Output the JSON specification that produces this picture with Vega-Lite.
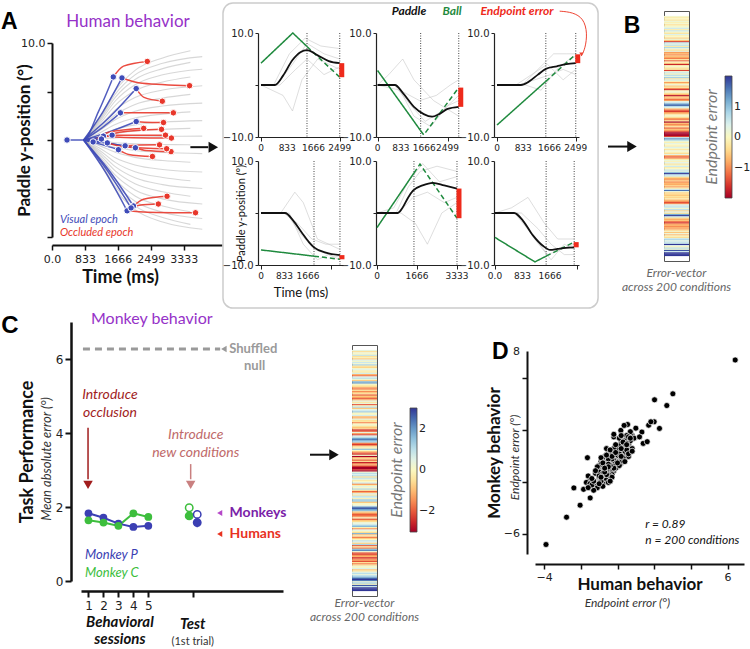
{
"$schema": "https://vega.github.io/schema/vega-lite/v6.json",
"padding": 0,
"background": "white",
"data": {"values": [{}]},
"config": {
  "view": {"stroke": null},
  "axis": {"grid": false, "labelFont": "DejaVu Sans", "labelFontSize": 11, "labelColor": "#222", "domainColor": "#222", "tickColor": "#222", "titleColor": "#111", "titleFont": "Lato", "labelFlush": false, "labelBound": false},
  "legend": {"labelFont": "DejaVu Sans", "labelFontSize": 11, "labelColor": "#222", "titleFont": "Lato", "gradientStrokeColor": "#444", "gradientStrokeWidth": 0.8},
  "title": {"font": "Lato"},
  "text": {"font": "Lato"}
},
"datasets": {
  "cond": [
    {"i":0,"h":0.1,"m":0.4},{"i":1,"h":-0.2,"m":-0.6},{"i":2,"h":0.0,"m":0.3},{"i":3,"h":-0.3,"m":-0.1},{"i":4,"h":0.2,"m":0.9},
    {"i":5,"h":-0.1,"m":-0.5},{"i":6,"h":0.1,"m":-0.2},{"i":7,"h":-0.4,"m":-0.9},{"i":8,"h":0.0,"m":0.6},{"i":9,"h":0.2,"m":0.1},
    {"i":10,"h":0.5,"m":0.8},{"i":11,"h":-0.2,"m":0.2},{"i":12,"h":0.6,"m":1.3},{"i":13,"h":0.1,"m":-0.4},{"i":14,"h":-0.3,"m":-0.7},
    {"i":15,"h":0.4,"m":0.2},{"i":16,"h":-0.1,"m":0.5},{"i":17,"h":0.0,"m":-0.3},{"i":18,"h":-0.5,"m":-0.2},{"i":19,"h":0.2,"m":0.7},
    {"i":20,"h":-0.6,"m":-1.1},{"i":21,"h":-1.5,"m":-1.8},{"i":22,"h":0.7,"m":0.5},{"i":23,"h":0.3,"m":1.0},{"i":24,"h":0.6,"m":0.2},
    {"i":25,"h":-0.2,"m":-0.8},{"i":26,"h":0.8,"m":1.6},{"i":27,"h":0.18,"m":2.0},{"i":28,"h":-0.4,"m":0.1},{"i":29,"h":0.3,"m":-0.3},
    {"i":30,"h":-0.9,"m":-0.6},{"i":31,"h":-0.7,"m":-1.4},{"i":32,"h":-1.0,"m":-1.7},{"i":33,"h":-0.6,"m":-0.3},{"i":34,"h":-0.8,"m":-1.5},
    {"i":35,"h":-1.1,"m":-0.9},{"i":36,"h":-0.3,"m":-0.6},{"i":37,"h":-1.3,"m":-2.0},{"i":38,"h":0.0,"m":-0.8},{"i":39,"h":-0.5,"m":-1.3},
    {"i":40,"h":-1.7,"m":-2.0},{"i":41,"h":-0.2,"m":-1.1},{"i":42,"h":0.1,"m":0.5},{"i":43,"h":-0.4,"m":-0.4},{"i":44,"h":-0.2,"m":0.3},
    {"i":45,"h":-1.5,"m":-2.1},{"i":46,"h":0.2,"m":-0.1},{"i":47,"h":0.6,"m":1.1},{"i":48,"h":-0.1,"m":-0.9},{"i":49,"h":0.7,"m":0.4},
    {"i":50,"h":0.3,"m":0.8},{"i":51,"h":0.9,"m":1.4},{"i":52,"h":-0.3,"m":0.0},{"i":53,"h":0.5,"m":0.1},{"i":54,"h":0.0,"m":0.7},
    {"i":55,"h":-0.9,"m":-1.0},{"i":56,"h":-0.4,"m":-1.2},{"i":57,"h":0.2,"m":0.4},{"i":58,"h":-0.6,"m":-0.5},{"i":59,"h":-0.2,"m":-0.4},
    {"i":60,"h":-1.0,"m":-1.6},{"i":61,"h":-1.64,"m":-0.1},{"i":62,"h":-0.1,"m":0.2},{"i":63,"h":0.2,"m":-0.5},{"i":64,"h":-0.3,"m":-0.9},
    {"i":65,"h":-0.7,"m":-0.8},{"i":66,"h":-1.85,"m":-2.53},{"i":67,"h":-0.8,"m":-1.9},{"i":68,"h":-0.5,"m":0.4},{"i":69,"h":-1.2,"m":-1.3},
    {"i":70,"h":-0.9,"m":-2.2},{"i":71,"h":0.3,"m":0.6},{"i":72,"h":0.6,"m":0.9},{"i":73,"h":1.33,"m":1.87},{"i":74,"h":1.7,"m":2.4},
    {"i":75,"h":0.7,"m":1.7},{"i":76,"h":0.4,"m":1.2},{"i":77,"h":-0.6,"m":-1.6},{"i":78,"h":-1.2,"m":-2.3},{"i":79,"h":-1.6,"m":-1.5},
    {"i":80,"h":-0.9,"m":-0.4},{"i":81,"h":-0.7,"m":-0.2},{"i":82,"h":-0.2,"m":1.5},{"i":83,"h":0.1,"m":0.0},{"i":84,"h":-0.3,"m":-1.0},
    {"i":85,"h":-0.9,"m":-1.8},{"i":86,"h":-1.1,"m":-2.4},{"i":87,"h":-0.4,"m":0.2},{"i":88,"h":-2.04,"m":-3.75},{"i":89,"h":-0.6,"m":-1.1},
    {"i":90,"h":-1.0,"m":-0.7},{"i":91,"h":-0.8,"m":-2.0},{"i":92,"h":-0.3,"m":-0.5},{"i":93,"h":-1.3,"m":-2.6},{"i":94,"h":-0.6,"m":-1.7},
    {"i":95,"h":-0.9,"m":-1.2},{"i":96,"h":-1.4,"m":-2.2},{"i":97,"h":-2.78,"m":-4.67},{"i":98,"h":-3.9,"m":-6.77},{"i":99,"h":-2.38,"m":-2.42},
    {"i":100,"h":-1.49,"m":-3.19},{"i":101,"h":0.6,"m":0.3},{"i":102,"h":1.4,"m":1.0},{"i":103,"h":0.8,"m":0.6},{"i":104,"h":0.2,"m":1.1},
    {"i":105,"h":-0.1,"m":-0.6},{"i":106,"h":0.3,"m":0.9},{"i":107,"h":0.0,"m":0.4},{"i":108,"h":-0.2,"m":-0.3},{"i":109,"h":0.4,"m":0.0},
    {"i":110,"h":0.1,"m":0.8},{"i":111,"h":-0.3,"m":-1.4},{"i":112,"h":0.2,"m":-0.2},{"i":113,"h":0.0,"m":0.5},{"i":114,"h":-0.4,"m":-0.1},
    {"i":115,"h":0.3,"m":1.2},{"i":116,"h":-0.8,"m":-0.3},{"i":117,"h":-1.3,"m":-1.9},{"i":118,"h":-1.0,"m":-1.2},{"i":119,"h":-0.2,"m":0.6},
    {"i":120,"h":0.2,"m":-0.4},{"i":121,"h":-0.1,"m":0.9},{"i":122,"h":0.4,"m":0.7},{"i":123,"h":-0.3,"m":-0.2},{"i":124,"h":0.1,"m":1.4},
    {"i":125,"h":0.5,"m":1.3},{"i":126,"h":-0.2,"m":-0.9},{"i":127,"h":0.0,"m":0.1},{"i":128,"h":0.6,"m":0.0},{"i":129,"h":0.3,"m":0.5},
    {"i":130,"h":1.0,"m":2.17},{"i":131,"h":2.0,"m":2.66},{"i":132,"h":0.7,"m":1.9},{"i":133,"h":0.5,"m":1.6},{"i":134,"h":-0.4,"m":-0.7},
    {"i":135,"h":-0.8,"m":-1.3},{"i":136,"h":-0.9,"m":-2.0},{"i":137,"h":-0.6,"m":-1.8},{"i":138,"h":-1.0,"m":-1.5},{"i":139,"h":-0.7,"m":0.0},
    {"i":140,"h":-0.8,"m":-2.1},{"i":141,"h":-0.5,"m":-0.9},{"i":142,"h":-0.9,"m":-0.6},{"i":143,"h":-0.3,"m":0.3},{"i":144,"h":0.4,"m":0.4},
    {"i":145,"h":1.62,"m":1.13},{"i":146,"h":0.2,"m":1.6},{"i":147,"h":-0.5,"m":-0.2},{"i":148,"h":-0.4,"m":-1.5},{"i":149,"h":-0.6,"m":0.6},
    {"i":150,"h":-0.3,"m":0.0},{"i":151,"h":-0.5,"m":-0.6},{"i":152,"h":-0.2,"m":1.7},{"i":153,"h":-0.7,"m":-1.0},{"i":154,"h":-0.9,"m":-0.1},
    {"i":155,"h":-1.4,"m":-1.7},{"i":156,"h":-1.1,"m":-0.8},{"i":157,"h":0.3,"m":-0.1},{"i":158,"h":0.6,"m":1.0},{"i":159,"h":0.5,"m":0.5},
    {"i":160,"h":0.1,"m":-0.7},{"i":161,"h":0.7,"m":1.2},{"i":162,"h":-0.5,"m":-2.0},{"i":163,"h":0.4,"m":-0.4},{"i":164,"h":-0.3,"m":-1.6},
    {"i":165,"h":1.2,"m":1.5},{"i":166,"h":2.29,"m":2.15},{"i":167,"h":0.6,"m":0.2},{"i":168,"h":-0.4,"m":-1.9},{"i":169,"h":-0.8,"m":-2.3},
    {"i":170,"h":-0.6,"m":-1.4},{"i":171,"h":-1.2,"m":-1.1},{"i":172,"h":-1.6,"m":-2.4},{"i":173,"h":-0.9,"m":-1.9},{"i":174,"h":-0.7,"m":-1.2},
    {"i":175,"h":-1.0,"m":-2.1},{"i":176,"h":-0.8,"m":-0.5},{"i":177,"h":-0.9,"m":-1.6},{"i":178,"h":-0.5,"m":-0.8},{"i":179,"h":0.1,"m":0.2},
    {"i":180,"h":-0.6,"m":0.1},{"i":181,"h":0.2,"m":0.6},{"i":182,"h":-0.7,"m":-0.9},{"i":183,"h":0.0,"m":-0.5},{"i":184,"h":-0.4,"m":0.5},
    {"i":185,"h":0.5,"m":1.0},{"i":186,"h":0.8,"m":0.4},{"i":187,"h":0.3,"m":1.1},{"i":188,"h":0.6,"m":1.5},{"i":189,"h":0.55,"m":2.45},
    {"i":190,"h":2.02,"m":4.35},{"i":191,"h":0.36,"m":2.38},{"i":192,"h":-0.1,"m":0.3},{"i":193,"h":0.7,"m":1.4},{"i":194,"h":0.2,"m":0.0},
    {"i":195,"h":1.82,"m":2.66},{"i":196,"h":0.5,"m":0.9},{"i":197,"h":2.69,"m":3.91},{"i":198,"h":6.42,"m":7.41},{"i":199,"h":3.02,"m":4.81}
  ],
  "agray": [
    {"k":1,"t":800,"y":0},{"k":1,"t":1200,"y":2.3},{"k":1,"t":1600,"y":5.06},{"k":1,"t":2100,"y":7.18},{"k":1,"t":2800,"y":8.46},{"k":1,"t":3500,"y":9.2},
    {"k":2,"t":800,"y":0},{"k":2,"t":1200,"y":2.15},{"k":2,"t":1600,"y":4.73},{"k":2,"t":2100,"y":6.71},{"k":2,"t":2800,"y":7.91},{"k":2,"t":3800,"y":8.6},
    {"k":3,"t":800,"y":0},{"k":3,"t":1200,"y":2.0},{"k":3,"t":1600,"y":4.4},{"k":3,"t":2100,"y":6.24},{"k":3,"t":2800,"y":7.36},{"k":3,"t":3500,"y":8.0},
    {"k":4,"t":800,"y":0},{"k":4,"t":1200,"y":1.83},{"k":4,"t":1600,"y":4.02},{"k":4,"t":2100,"y":5.69},{"k":4,"t":2800,"y":6.72},{"k":4,"t":3800,"y":7.3},
    {"k":5,"t":800,"y":0},{"k":5,"t":1200,"y":1.63},{"k":5,"t":1600,"y":3.58},{"k":5,"t":2100,"y":5.07},{"k":5,"t":2800,"y":5.98},{"k":5,"t":3500,"y":6.5},
    {"k":6,"t":800,"y":0},{"k":6,"t":1200,"y":1.4},{"k":6,"t":1600,"y":3.08},{"k":6,"t":2100,"y":4.37},{"k":6,"t":2800,"y":5.15},{"k":6,"t":3800,"y":5.6},
    {"k":7,"t":800,"y":0},{"k":7,"t":1200,"y":1.18},{"k":7,"t":1600,"y":2.59},{"k":7,"t":2100,"y":3.67},{"k":7,"t":2800,"y":4.32},{"k":7,"t":3500,"y":4.7},
    {"k":8,"t":800,"y":0},{"k":8,"t":1200,"y":0.95},{"k":8,"t":1600,"y":2.09},{"k":8,"t":2100,"y":2.96},{"k":8,"t":2800,"y":3.5},{"k":8,"t":3800,"y":3.8},
    {"k":9,"t":800,"y":0},{"k":9,"t":1200,"y":0.73},{"k":9,"t":1600,"y":1.6},{"k":9,"t":2100,"y":2.26},{"k":9,"t":2800,"y":2.67},{"k":9,"t":3500,"y":2.9},
    {"k":10,"t":800,"y":0},{"k":10,"t":1200,"y":0.5},{"k":10,"t":1600,"y":1.1},{"k":10,"t":2100,"y":1.56},{"k":10,"t":2800,"y":1.84},{"k":10,"t":3800,"y":2.0},
    {"k":11,"t":800,"y":0},{"k":11,"t":1200,"y":0.3},{"k":11,"t":1600,"y":0.66},{"k":11,"t":2100,"y":0.94},{"k":11,"t":2800,"y":1.1},{"k":11,"t":3500,"y":1.2},
    {"k":12,"t":800,"y":0},{"k":12,"t":1200,"y":0.1},{"k":12,"t":1600,"y":0.22},{"k":12,"t":2100,"y":0.31},{"k":12,"t":2800,"y":0.37},{"k":12,"t":3800,"y":0.4},
    {"k":13,"t":800,"y":0},{"k":13,"t":1200,"y":-0.13},{"k":13,"t":1600,"y":-0.28},{"k":13,"t":2100,"y":-0.39},{"k":13,"t":2800,"y":-0.46},{"k":13,"t":3500,"y":-0.5},
    {"k":14,"t":800,"y":0},{"k":14,"t":1200,"y":-0.35},{"k":14,"t":1600,"y":-0.77},{"k":14,"t":2100,"y":-1.09},{"k":14,"t":2800,"y":-1.29},{"k":14,"t":3800,"y":-1.4},
    {"k":15,"t":800,"y":0},{"k":15,"t":1200,"y":-0.58},{"k":15,"t":1600,"y":-1.27},{"k":15,"t":2100,"y":-1.79},{"k":15,"t":2800,"y":-2.12},{"k":15,"t":3500,"y":-2.3},
    {"k":16,"t":800,"y":0},{"k":16,"t":1200,"y":-0.83},{"k":16,"t":1600,"y":-1.82},{"k":16,"t":2100,"y":-2.57},{"k":16,"t":2800,"y":-3.04},{"k":16,"t":3800,"y":-3.3},
    {"k":17,"t":800,"y":0},{"k":17,"t":1200,"y":-1.05},{"k":17,"t":1600,"y":-2.31},{"k":17,"t":2100,"y":-3.28},{"k":17,"t":2800,"y":-3.86},{"k":17,"t":3500,"y":-4.2},
    {"k":18,"t":800,"y":0},{"k":18,"t":1200,"y":-1.25},{"k":18,"t":1600,"y":-2.75},{"k":18,"t":2100,"y":-3.9},{"k":18,"t":2800,"y":-4.6},{"k":18,"t":3800,"y":-5.0},
    {"k":19,"t":800,"y":0},{"k":19,"t":1200,"y":-1.45},{"k":19,"t":1600,"y":-3.19},{"k":19,"t":2100,"y":-4.52},{"k":19,"t":2800,"y":-5.34},{"k":19,"t":3500,"y":-5.8},
    {"k":20,"t":800,"y":0},{"k":20,"t":1200,"y":-1.65},{"k":20,"t":1600,"y":-3.63},{"k":20,"t":2100,"y":-5.15},{"k":20,"t":2800,"y":-6.07},{"k":20,"t":3800,"y":-6.6},
    {"k":21,"t":800,"y":0},{"k":21,"t":1200,"y":-1.85},{"k":21,"t":1600,"y":-4.07},{"k":21,"t":2100,"y":-5.77},{"k":21,"t":2800,"y":-6.81},{"k":21,"t":3500,"y":-7.4},
    {"k":22,"t":800,"y":0},{"k":22,"t":1200,"y":-2.03},{"k":22,"t":1600,"y":-4.46},{"k":22,"t":2100,"y":-6.32},{"k":22,"t":2800,"y":-7.45},{"k":22,"t":3800,"y":-8.1},
    {"k":23,"t":800,"y":0},{"k":23,"t":1200,"y":-2.18},{"k":23,"t":1600,"y":-4.79},{"k":23,"t":2100,"y":-6.79},{"k":23,"t":2800,"y":-8.0},{"k":23,"t":3500,"y":-8.7},
    {"k":24,"t":800,"y":0},{"k":24,"t":1200,"y":-2.3},{"k":24,"t":1600,"y":-5.06},{"k":24,"t":2100,"y":-7.18},{"k":24,"t":2800,"y":-8.46},{"k":24,"t":3800,"y":-9.2}
  ],
  "acol": [
    {"k":"c1","s":"v","t":380,"y":0},{"k":"c1","s":"v","t":800,"y":0},{"k":"c1","s":"v","t":1175,"y":2.93},{"k":"c1","s":"v","t":1550,"y":6.5},
    {"k":"c1","s":"o","t":1550,"y":6.5},{"k":"c1","s":"o","t":1808,"y":7.62},{"k":"c1","s":"o","t":2410,"y":8.1},
    {"k":"c2","s":"v","t":800,"y":0},{"k":"c2","s":"v","t":1285,"y":2.88},{"k":"c2","s":"v","t":1770,"y":6.4},
    {"k":"c2","s":"o","t":1770,"y":6.4},{"k":"c2","s":"o","t":2283,"y":5.84},{"k":"c2","s":"o","t":3480,"y":5.6},
    {"k":"c3","s":"v","t":800,"y":0},{"k":"c3","s":"v","t":1465,"y":2.39},{"k":"c3","s":"v","t":2130,"y":5.3},
    {"k":"c3","s":"o","t":2130,"y":5.3},{"k":"c3","s":"o","t":2328,"y":4.39},{"k":"c3","s":"o","t":2790,"y":4.0},
    {"k":"c4","s":"v","t":800,"y":0},{"k":"c4","s":"v","t":1265,"y":1.26},{"k":"c4","s":"v","t":1730,"y":2.8},
    {"k":"c4","s":"o","t":1730,"y":2.8},{"k":"c4","s":"o","t":2132,"y":2.8},{"k":"c4","s":"o","t":3070,"y":2.8},
    {"k":"c5","s":"v","t":800,"y":0},{"k":"c5","s":"v","t":1465,"y":0.86},{"k":"c5","s":"v","t":2130,"y":1.9},
    {"k":"c5","s":"o","t":2130,"y":1.9},{"k":"c5","s":"o","t":2337,"y":1.83},{"k":"c5","s":"o","t":2820,"y":1.8},
    {"k":"c6","s":"v","t":800,"y":0},{"k":"c6","s":"v","t":1160,"y":0.23},{"k":"c6","s":"v","t":1520,"y":0.5},
    {"k":"c6","s":"o","t":1520,"y":0.5},{"k":"c6","s":"o","t":1925,"y":0.5},{"k":"c6","s":"o","t":2870,"y":0.5},
    {"k":"c7","s":"v","t":800,"y":0},{"k":"c7","s":"v","t":1050,"y":0.18},{"k":"c7","s":"v","t":1300,"y":0.4},
    {"k":"c7","s":"o","t":1300,"y":0.4},{"k":"c7","s":"o","t":1816,"y":0.26},{"k":"c7","s":"o","t":3020,"y":0.2},
    {"k":"c8","s":"v","t":800,"y":0},{"k":"c8","s":"v","t":920,"y":-0.09},{"k":"c8","s":"v","t":1040,"y":-0.2},
    {"k":"c8","s":"o","t":1040,"y":-0.2},{"k":"c8","s":"o","t":1424,"y":0.78},{"k":"c8","s":"o","t":2320,"y":1.2},
    {"k":"c9","s":"v","t":800,"y":0},{"k":"c9","s":"v","t":1025,"y":0.05},{"k":"c9","s":"v","t":1250,"y":0.1},
    {"k":"c9","s":"o","t":1250,"y":0.1},{"k":"c9","s":"o","t":1706,"y":0.8},{"k":"c9","s":"o","t":2770,"y":1.1},
    {"k":"c10","s":"v","t":800,"y":0},{"k":"c10","s":"v","t":1240,"y":-0.45},{"k":"c10","s":"v","t":1680,"y":-1.0},
    {"k":"c10","s":"o","t":1680,"y":-1.0},{"k":"c10","s":"o","t":1938,"y":-1.49},{"k":"c10","s":"o","t":2540,"y":-1.7},
    {"k":"c11","s":"v","t":800,"y":0},{"k":"c11","s":"v","t":1455,"y":-0.36},{"k":"c11","s":"v","t":2110,"y":-0.8},
    {"k":"c11","s":"o","t":2110,"y":-0.8},{"k":"c11","s":"o","t":2380,"y":-1.08},{"k":"c11","s":"o","t":3010,"y":-1.2},
    {"k":"c12","s":"v","t":800,"y":0},{"k":"c12","s":"v","t":1325,"y":-0.27},{"k":"c12","s":"v","t":1850,"y":-0.6},
    {"k":"c12","s":"o","t":1850,"y":-0.6},{"k":"c12","s":"o","t":2111,"y":-0.53},{"k":"c12","s":"o","t":2720,"y":-0.5},
    {"k":"c13","s":"v","t":800,"y":0},{"k":"c13","s":"v","t":1100,"y":-0.14},{"k":"c13","s":"v","t":1400,"y":-0.3},
    {"k":"c13","s":"o","t":1400,"y":-0.3},{"k":"c13","s":"o","t":1850,"y":-0.72},{"k":"c13","s":"o","t":2900,"y":-0.9},
    {"k":"c14","s":"v","t":800,"y":0},{"k":"c14","s":"v","t":1350,"y":-3.29},{"k":"c14","s":"v","t":1900,"y":-7.3},
    {"k":"c14","s":"o","t":1900,"y":-7.3},{"k":"c14","s":"o","t":2419,"y":-7.44},{"k":"c14","s":"o","t":3630,"y":-7.5},
    {"k":"c15","s":"v","t":800,"y":0},{"k":"c15","s":"v","t":1430,"y":-3.06},{"k":"c15","s":"v","t":2060,"y":-6.8},
    {"k":"c15","s":"o","t":2060,"y":-6.8},{"k":"c15","s":"o","t":2315,"y":-6.1},{"k":"c15","s":"o","t":2910,"y":-5.8},
    {"k":"c16","s":"v","t":800,"y":0},{"k":"c16","s":"v","t":1400,"y":-3.15},{"k":"c16","s":"v","t":2000,"y":-7.0},
    {"k":"c16","s":"o","t":2000,"y":-7.0},{"k":"c16","s":"o","t":2207,"y":-6.72},{"k":"c16","s":"o","t":2690,"y":-6.6}
  ],
  "adot": [
    {"s":"v","t":380,"y":0},
    {"s":"v","t":1550,"y":6.5},{"s":"o","t":2410,"y":8.1},
    {"s":"v","t":1770,"y":6.4},{"s":"o","t":3480,"y":5.6},
    {"s":"v","t":2130,"y":5.3},{"s":"o","t":2790,"y":4.0},
    {"s":"v","t":1730,"y":2.8},{"s":"o","t":3070,"y":2.8},
    {"s":"v","t":2130,"y":1.9},{"s":"o","t":2820,"y":1.8},
    {"s":"v","t":1520,"y":0.5},{"s":"o","t":2870,"y":0.5},
    {"s":"v","t":1300,"y":0.4},{"s":"o","t":3020,"y":0.2},
    {"s":"v","t":1040,"y":-0.2},{"s":"o","t":2320,"y":1.2},
    {"s":"v","t":1250,"y":0.1},{"s":"o","t":2770,"y":1.1},
    {"s":"v","t":1680,"y":-1.0},{"s":"o","t":2540,"y":-1.7},
    {"s":"v","t":2110,"y":-0.8},{"s":"o","t":3010,"y":-1.2},
    {"s":"v","t":1850,"y":-0.6},{"s":"o","t":2720,"y":-0.5},
    {"s":"v","t":1400,"y":-0.3},{"s":"o","t":2900,"y":-0.9},
    {"s":"v","t":1900,"y":-7.3},{"s":"o","t":3630,"y":-7.5},
    {"s":"v","t":2060,"y":-6.8},{"s":"o","t":2910,"y":-5.8},
    {"s":"v","t":2000,"y":-7.0},{"s":"o","t":2690,"y":-6.6}
  ],
  "trials": [
    {"p":1,"k":1,"t":0,"y":0},{"p":1,"k":1,"t":500,"y":0},{"p":1,"k":1,"t":1000,"y":4},{"p":1,"k":1,"t":1460,"y":8},{"p":1,"k":1,"t":2000,"y":6},{"p":1,"k":1,"t":2500,"y":5},
    {"p":1,"k":2,"t":0,"y":0},{"p":1,"k":2,"t":600,"y":0},{"p":1,"k":2,"t":1100,"y":3},{"p":1,"k":2,"t":1460,"y":5},{"p":1,"k":2,"t":2000,"y":2},{"p":1,"k":2,"t":2500,"y":3.5},
    {"p":1,"k":3,"t":0,"y":0},{"p":1,"k":3,"t":400,"y":0},{"p":1,"k":3,"t":900,"y":6},{"p":1,"k":3,"t":1400,"y":9},{"p":1,"k":3,"t":1900,"y":7.5},{"p":1,"k":3,"t":2500,"y":7},
    {"p":1,"k":4,"t":0,"y":0},{"p":1,"k":4,"t":700,"y":-2},{"p":1,"k":4,"t":1000,"y":-5},{"p":1,"k":4,"t":1300,"y":1},{"p":1,"k":4,"t":1800,"y":5},{"p":1,"k":4,"t":2500,"y":3},
    {"p":2,"k":1,"t":0,"y":0},{"p":2,"k":1,"t":600,"y":0},{"p":2,"k":1,"t":1200,"y":-4},{"p":2,"k":1,"t":1700,"y":-7},{"p":2,"k":1,"t":2300,"y":-5},{"p":2,"k":1,"t":2900,"y":-2},
    {"p":2,"k":2,"t":0,"y":0},{"p":2,"k":2,"t":400,"y":2},{"p":2,"k":2,"t":900,"y":5},{"p":2,"k":2,"t":1300,"y":1},{"p":2,"k":2,"t":2000,"y":-3},{"p":2,"k":2,"t":2900,"y":-6},
    {"p":2,"k":3,"t":0,"y":0},{"p":2,"k":3,"t":700,"y":0},{"p":2,"k":3,"t":1300,"y":-6},{"p":2,"k":3,"t":1900,"y":-8},{"p":2,"k":3,"t":2500,"y":-4},{"p":2,"k":3,"t":2900,"y":-3},
    {"p":2,"k":4,"t":0,"y":0},{"p":2,"k":4,"t":800,"y":-1},{"p":2,"k":4,"t":1500,"y":-3},{"p":2,"k":4,"t":2100,"y":-2},{"p":2,"k":4,"t":2600,"y":0},{"p":2,"k":4,"t":2900,"y":1},
    {"p":3,"k":1,"t":0,"y":0},{"p":3,"k":1,"t":800,"y":0},{"p":3,"k":1,"t":1300,"y":3},{"p":3,"k":1,"t":1800,"y":6},{"p":3,"k":1,"t":2200,"y":6},{"p":3,"k":1,"t":2500,"y":6},
    {"p":3,"k":2,"t":0,"y":0},{"p":3,"k":2,"t":700,"y":0},{"p":3,"k":2,"t":1200,"y":1},{"p":3,"k":2,"t":1700,"y":2},{"p":3,"k":2,"t":2100,"y":3},{"p":3,"k":2,"t":2500,"y":2},
    {"p":3,"k":3,"t":0,"y":0},{"p":3,"k":3,"t":900,"y":0},{"p":3,"k":3,"t":1400,"y":-1},{"p":3,"k":3,"t":1900,"y":3},{"p":3,"k":3,"t":2300,"y":5},{"p":3,"k":3,"t":2500,"y":5.5},
    {"p":3,"k":4,"t":0,"y":0},{"p":3,"k":4,"t":600,"y":0},{"p":3,"k":4,"t":1100,"y":2},{"p":3,"k":4,"t":1600,"y":4},{"p":3,"k":4,"t":2100,"y":1},{"p":3,"k":4,"t":2500,"y":3},
    {"p":4,"k":1,"t":0,"y":0},{"p":4,"k":1,"t":900,"y":0},{"p":4,"k":1,"t":1400,"y":-4},{"p":4,"k":1,"t":1900,"y":-7},{"p":4,"k":1,"t":2400,"y":-8},{"p":4,"k":1,"t":2800,"y":-9},
    {"p":4,"k":2,"t":0,"y":0},{"p":4,"k":2,"t":700,"y":0},{"p":4,"k":2,"t":1200,"y":4},{"p":4,"k":2,"t":1500,"y":2},{"p":4,"k":2,"t":2000,"y":-5},{"p":4,"k":2,"t":2800,"y":-7},
    {"p":4,"k":3,"t":0,"y":0},{"p":4,"k":3,"t":1000,"y":0},{"p":4,"k":3,"t":1500,"y":-6},{"p":4,"k":3,"t":2000,"y":-9},{"p":4,"k":3,"t":2400,"y":-8},{"p":4,"k":3,"t":2800,"y":-8.5},
    {"p":4,"k":4,"t":0,"y":0},{"p":4,"k":4,"t":800,"y":0},{"p":4,"k":4,"t":1300,"y":-2},{"p":4,"k":4,"t":1800,"y":-5},{"p":4,"k":4,"t":2300,"y":-6},{"p":4,"k":4,"t":2800,"y":-6},
    {"p":5,"k":1,"t":0,"y":0},{"p":5,"k":1,"t":800,"y":0},{"p":5,"k":1,"t":1300,"y":5},{"p":5,"k":1,"t":1800,"y":8},{"p":5,"k":1,"t":2500,"y":9},{"p":5,"k":1,"t":3333,"y":8},
    {"p":5,"k":2,"t":0,"y":0},{"p":5,"k":2,"t":900,"y":0},{"p":5,"k":2,"t":1500,"y":3},{"p":5,"k":2,"t":2100,"y":4},{"p":5,"k":2,"t":2800,"y":2},{"p":5,"k":2,"t":3333,"y":3},
    {"p":5,"k":3,"t":0,"y":0},{"p":5,"k":3,"t":700,"y":1},{"p":5,"k":3,"t":1300,"y":6},{"p":5,"k":3,"t":1900,"y":9.5},{"p":5,"k":3,"t":2600,"y":6},{"p":5,"k":3,"t":3333,"y":7},
    {"p":5,"k":4,"t":0,"y":0},{"p":5,"k":4,"t":1000,"y":0},{"p":5,"k":4,"t":1600,"y":-2},{"p":5,"k":4,"t":2100,"y":-6},{"p":5,"k":4,"t":2700,"y":0},{"p":5,"k":4,"t":3333,"y":2},
    {"p":6,"k":1,"t":0,"y":0},{"p":6,"k":1,"t":600,"y":0},{"p":6,"k":1,"t":1100,"y":-4},{"p":6,"k":1,"t":1600,"y":-8},{"p":6,"k":1,"t":2000,"y":-7},{"p":6,"k":1,"t":2400,"y":-6},
    {"p":6,"k":2,"t":0,"y":0},{"p":6,"k":2,"t":800,"y":0},{"p":6,"k":2,"t":1300,"y":-3},{"p":6,"k":2,"t":1700,"y":-6},{"p":6,"k":2,"t":2100,"y":-8},{"p":6,"k":2,"t":2400,"y":-8},
    {"p":6,"k":3,"t":0,"y":0},{"p":6,"k":3,"t":500,"y":1},{"p":6,"k":3,"t":1000,"y":3},{"p":6,"k":3,"t":1500,"y":-2},{"p":6,"k":3,"t":1900,"y":-5},{"p":6,"k":3,"t":2400,"y":-5},
    {"p":6,"k":4,"t":0,"y":0},{"p":6,"k":4,"t":700,"y":0},{"p":6,"k":4,"t":1200,"y":-5},{"p":6,"k":4,"t":1700,"y":-9},{"p":6,"k":4,"t":2100,"y":-6},{"p":6,"k":4,"t":2400,"y":-7}
  ],
  "mean": [
    {"p":1,"t":0,"y":0},{"p":1,"t":440,"y":0},{"p":1,"t":700,"y":1.8},{"p":1,"t":1000,"y":4.8},{"p":1,"t":1250,"y":6.3},{"p":1,"t":1460,"y":6.7},{"p":1,"t":1800,"y":5.7},{"p":1,"t":2150,"y":4.6},{"p":1,"t":2500,"y":4.2},
    {"p":2,"t":0,"y":0},{"p":2,"t":620,"y":0},{"p":2,"t":900,"y":-1.5},{"p":2,"t":1300,"y":-4.2},{"p":2,"t":1650,"y":-5.6},{"p":2,"t":1950,"y":-6.1},{"p":2,"t":2200,"y":-5.6},{"p":2,"t":2500,"y":-4.6},{"p":2,"t":2900,"y":-4.2},
    {"p":3,"t":0,"y":0},{"p":3,"t":760,"y":0},{"p":3,"t":1000,"y":0.6},{"p":3,"t":1300,"y":2.0},{"p":3,"t":1550,"y":3.1},{"p":3,"t":1900,"y":3.6},{"p":3,"t":2200,"y":4.0},{"p":3,"t":2500,"y":4.2},
    {"p":4,"t":0,"y":0},{"p":4,"t":850,"y":0},{"p":4,"t":1150,"y":-1.5},{"p":4,"t":1450,"y":-3.8},{"p":4,"t":1700,"y":-5.6},{"p":4,"t":1880,"y":-6.6},{"p":4,"t":2300,"y":-7.6},{"p":4,"t":2800,"y":-8.1},
    {"p":5,"t":0,"y":0},{"p":5,"t":870,"y":0},{"p":5,"t":1050,"y":0.9},{"p":5,"t":1300,"y":3.0},{"p":5,"t":1500,"y":4.3},{"p":5,"t":1900,"y":5.3},{"p":5,"t":2330,"y":5.8},{"p":5,"t":2800,"y":5.3},{"p":5,"t":3333,"y":4.7},
    {"p":6,"t":0,"y":0},{"p":6,"t":580,"y":0},{"p":6,"t":850,"y":-1.5},{"p":6,"t":1150,"y":-4.3},{"p":6,"t":1450,"y":-6.3},{"p":6,"t":1670,"y":-7.1},{"p":6,"t":1900,"y":-6.9},{"p":6,"t":2150,"y":-6.7},{"p":6,"t":2400,"y":-6.6}
  ],
  "ball": [
    {"p":1,"s":"v","t":0,"y":4.2},{"p":1,"s":"v","t":1010,"y":10},{"p":1,"s":"v","t":1460,"y":7.4},{"p":1,"s":"o","t":1460,"y":7.4},{"p":1,"s":"o","t":2500,"y":1.5},
    {"p":2,"s":"v","t":0,"y":2.8},{"p":2,"s":"v","t":1540,"y":-8.8},{"p":2,"s":"o","t":1540,"y":-8.8},{"p":2,"s":"o","t":1650,"y":-9.6},{"p":2,"s":"o","t":2900,"y":-0.5},
    {"p":3,"s":"v","t":0,"y":-7.7},{"p":3,"s":"v","t":1550,"y":0.7},{"p":3,"s":"o","t":1550,"y":0.7},{"p":3,"s":"o","t":2500,"y":5.9},
    {"p":4,"s":"v","t":0,"y":-7.1},{"p":4,"s":"v","t":1880,"y":-8.3},{"p":4,"s":"o","t":1880,"y":-8.3},{"p":4,"s":"o","t":2800,"y":-8.9},
    {"p":5,"s":"v","t":0,"y":-2.8},{"p":5,"s":"v","t":1540,"y":7.7},{"p":5,"s":"o","t":1540,"y":7.7},{"p":5,"s":"o","t":1790,"y":9.4},{"p":5,"s":"o","t":3333,"y":-1.0},
    {"p":6,"s":"v","t":0,"y":-4.7},{"p":6,"s":"v","t":1210,"y":-9.4},{"p":6,"s":"v","t":1550,"y":-8.3},{"p":6,"s":"o","t":1550,"y":-8.3},{"p":6,"s":"o","t":2400,"y":-5.6}
  ],
  "occl": [
    {"p":1,"t":1460},{"p":1,"t":2500},{"p":2,"t":1540},{"p":2,"t":2900},{"p":3,"t":1550},{"p":3,"t":2500},
    {"p":4,"t":1880},{"p":4,"t":2800},{"p":5,"t":1540},{"p":5,"t":3333},{"p":6,"t":1550},{"p":6,"t":2400}
  ],
  "err": [
    {"p":1,"t":2500,"y":4.2,"y2":1.5},{"p":2,"t":2900,"y":-4.2,"y2":-0.5},{"p":3,"t":2500,"y":4.2,"y2":5.9},
    {"p":4,"t":2800,"y":-8.1,"y2":-8.9},{"p":5,"t":3333,"y":4.7,"y2":-1.0},{"p":6,"t":2400,"y":-6.6,"y2":-5.6}
  ],
  "xlab": [
    {"p":1,"t":0,"lab":"0"},{"p":1,"t":833,"lab":"833"},{"p":1,"t":1666,"lab":"1666"},{"p":1,"t":2499,"lab":"2499"},
    {"p":2,"t":0,"lab":"0"},{"p":2,"t":833,"lab":"833"},{"p":2,"t":1666,"lab":"1666"},{"p":2,"t":2499,"lab":"2499"},
    {"p":3,"t":0,"lab":"0"},{"p":3,"t":833,"lab":"833"},{"p":3,"t":1666,"lab":"1666"},{"p":3,"t":2499,"lab":"2499"},
    {"p":4,"t":0,"lab":"0"},{"p":4,"t":833,"lab":"833"},{"p":4,"t":1666,"lab":"1666"},
    {"p":5,"t":0,"lab":"0"},{"p":5,"t":1666,"lab":"1666"},{"p":5,"t":3333,"lab":"3333"},
    {"p":6,"t":0,"lab":"0.0"},{"p":6,"t":833,"lab":"833"},{"p":6,"t":1666,"lab":"1666"}
  ],
  "curl": [
    {"n":1,"t":1990,"y":14.2},{"n":2,"t":2400,"y":14.0},{"n":3,"t":2750,"y":12.8},{"n":4,"t":2870,"y":10.0},{"n":5,"t":2800,"y":7.0},{"n":6,"t":2680,"y":5.6}
  ],
  "sess": [
    {"mk":"P","s":1,"v":1.83},{"mk":"P","s":2,"v":1.71},{"mk":"P","s":3,"v":1.55},{"mk":"P","s":4,"v":1.46},{"mk":"P","s":5,"v":1.49},
    {"mk":"C","s":1,"v":1.64},{"mk":"C","s":2,"v":1.58},{"mk":"C","s":3,"v":1.49},{"mk":"C","s":4,"v":1.83},{"mk":"C","s":5,"v":1.73}
  ],
  "test": [
    {"mk":"C","f":"filled","s":8,"v":1.76,"lo":1.68,"hi":1.84},{"mk":"C","f":"open","s":8,"v":1.98,"lo":1.9,"hi":2.06},
    {"mk":"P","f":"filled","s":8,"v":1.58,"lo":1.45,"hi":1.7},{"mk":"P","f":"open","s":8,"v":1.8,"lo":1.7,"hi":1.9}
  ]
},
"vconcat": [
  {"hconcat": [
    {"hconcat": [
      {"width": 1, "height": 1, "mark": {"type": "rule", "opacity": 0}, "encoding": {"x": {"datum": 0, "type": "quantitative", "scale": {"domain": [0, 1]}, "axis": null}, "y": {"datum": 0, "type": "quantitative", "scale": {"domain": [0, 1]}, "axis": null}, "y2": {"datum": 1}}},
      {"vconcat": [
        {"width": 1, "height": 11, "mark": {"type": "rule", "opacity": 0}, "encoding": {"x": {"datum": 0, "type": "quantitative", "scale": {"domain": [0, 1]}, "axis": null}, "y": {"datum": 0, "type": "quantitative", "scale": {"domain": [0, 1]}, "axis": null}, "y2": {"datum": 1}}},
        {
          "width": 170, "height": 194,
          "layer": [
            {"data": {"name": "agray"},
             "mark": {"type": "line", "color": "#9a9a9a", "strokeWidth": 1.1, "opacity": 0.4, "interpolate": "monotone"},
             "encoding": {
               "x": {"field": "t", "type": "quantitative", "scale": {"domain": [0, 4300], "nice": false, "zero": false},
                 "axis": {"values": [0, 833, 1666, 2499, 3333], "format": "d", "labelExpr": "datum.value == 0 ? '0.0' : datum.label", "offset": 8, "domainWidth": 2, "domainColor": "#111", "tickSize": 5, "tickWidth": 1.5, "tickColor": "#111", "labelPadding": 3, "title": "Time (ms)", "titleFontSize": 18, "titleFontWeight": "bold", "titlePadding": 4, "titleX": 68, "titleAlign": "center"}},
               "y": {"field": "y", "type": "quantitative", "scale": {"domain": [-10, 10], "nice": false},
                 "axis": {"values": [-10, -7.5, -5, -2.5, 0, 2.5, 5, 7.5, 10], "labelExpr": "datum.value == 10 ? '10.0' : datum.value == -7.5 ? '−7.5' : ''", "domainWidth": 2, "domainColor": "#111", "tickSize": 5, "tickWidth": 1.5, "tickColor": "#111", "title": "Paddle y-position (°)", "titleFontSize": 17, "titleFontWeight": "bold", "titlePadding": -13}},
               "detail": {"field": "k", "type": "nominal"}}},
            {"data": {"name": "acol"},
             "mark": {"type": "line", "strokeWidth": 1.5, "interpolate": "monotone", "opacity": 0.9},
             "encoding": {"x": {"field": "t", "type": "quantitative"}, "y": {"field": "y", "type": "quantitative"},
               "color": {"field": "s", "type": "nominal", "scale": {"domain": ["v", "o"], "range": ["#3f4bb8", "#e8372b"]}, "legend": null},
               "detail": {"field": "k", "type": "nominal"}}},
            {"data": {"name": "adot"},
             "mark": {"type": "circle", "size": 42, "opacity": 1, "stroke": "white", "strokeWidth": 1},
             "encoding": {"x": {"field": "t", "type": "quantitative"}, "y": {"field": "y", "type": "quantitative"},
               "color": {"field": "s", "type": "nominal", "legend": null}}},
            {"mark": {"type": "rule", "color": "#111", "strokeWidth": 2}, "encoding": {"x": {"datum": 3500}, "x2": {"datum": 3950}, "y": {"datum": -0.74}}},
            {"mark": {"type": "point", "shape": "triangle-right", "filled": true, "size": 120, "color": "#111", "opacity": 1}, "encoding": {"x": {"datum": 4080}, "y": {"datum": -0.74}}},
            {"mark": {"type": "text", "text": "A", "fontSize": 23, "fontWeight": "bold", "font": "Liberation Sans", "align": "left"}, "encoding": {"x": {"datum": -1290}, "y": {"datum": 12.16}}},
            {"mark": {"type": "text", "text": "Human behavior", "fontSize": 17, "color": "#9632c8"}, "encoding": {"x": {"datum": 1923}, "y": {"datum": 12.16}}},
            {"mark": {"type": "text", "text": "Visual epoch", "fontSize": 11, "fontStyle": "italic", "color": "#3f4bb8", "align": "left"}, "encoding": {"x": {"datum": 200}, "y": {"datum": -8.2}}},
            {"mark": {"type": "text", "text": "Occluded epoch", "fontSize": 11, "fontStyle": "italic", "color": "#e8372b", "align": "left"}, "encoding": {"x": {"datum": 200}, "y": {"datum": -9.6}}}
          ]
        }
      ], "spacing": 0},
      {"vconcat": [
        {"width": 1, "height": 2, "mark": {"type": "rule", "opacity": 0}, "encoding": {"x": {"datum": 0, "type": "quantitative", "scale": {"domain": [0, 1]}, "axis": null}, "y": {"datum": 0, "type": "quantitative", "scale": {"domain": [0, 1]}, "axis": null}, "y2": {"datum": 1}}},
        {
          "concat": [
            {"width": 85, "height": 104, "layer": [
              {"data": {"name": "trials"}, "transform": [{"filter": "datum.p == 1"}], "mark": {"type": "line", "color": "#c4c4c4", "strokeWidth": 0.8, "opacity": 0.7},
               "encoding": {"x": {"field": "t", "type": "quantitative", "scale": {"domain": [-95, 2603], "nice": false, "zero": false}, "axis": {"values": [0, 833, 1666, 2499], "labels": false, "title": null, "tickSize": 4, "domainWidth": 1.2}},
                 "y": {"field": "y", "type": "quantitative", "scale": {"domain": [-10, 10], "nice": false}, "axis": {"values": [-10, -7.5, -5, -2.5, 0, 2.5, 5, 7.5, 10], "labelExpr": "datum.value == 10 ? '10.0' : datum.value == -10 ? '−10.0' : ''", "title": null, "tickSize": 3, "labelFontSize": 10, "domainWidth": 1.2}},
                 "detail": {"field": "k", "type": "nominal"}}},
              {"data": {"name": "occl"}, "transform": [{"filter": "datum.p == 1"}], "mark": {"type": "rule", "color": "#444", "strokeWidth": 1, "strokeDash": [1, 1.5]}, "encoding": {"x": {"field": "t", "type": "quantitative"}}},
              {"data": {"name": "ball"}, "transform": [{"filter": "datum.p == 1"}], "mark": {"type": "line", "color": "#1f8a3e", "strokeWidth": 1.5}, "encoding": {"x": {"field": "t", "type": "quantitative"}, "y": {"field": "y", "type": "quantitative"}, "strokeDash": {"field": "s", "type": "nominal", "scale": {"domain": ["v", "o"], "range": [[1, 0], [5, 3]]}, "legend": null}}},
              {"data": {"name": "mean"}, "transform": [{"filter": "datum.p == 1"}], "mark": {"type": "line", "color": "#111", "strokeWidth": 1.8, "interpolate": "monotone"}, "encoding": {"x": {"field": "t", "type": "quantitative"}, "y": {"field": "y", "type": "quantitative"}}},
              {"data": {"name": "err"}, "transform": [{"filter": "datum.p == 1"}], "mark": {"type": "rule", "color": "#ee2a1b", "strokeWidth": 5, "xOffset": 2}, "encoding": {"x": {"field": "t", "type": "quantitative"}, "y": {"field": "y", "type": "quantitative"}, "y2": {"field": "y2"}}},
              {"data": {"name": "xlab"}, "transform": [{"filter": "datum.p == 1"}], "mark": {"type": "text", "font": "DejaVu Sans", "fontSize": 9, "color": "#222", "baseline": "top", "dy": 7}, "encoding": {"x": {"field": "t", "type": "quantitative"}, "y": {"datum": -10}, "text": {"field": "lab"}}},
              {"mark": {"type": "rect", "fillOpacity": 0, "stroke": "#cccccc", "strokeWidth": 1.5, "cornerRadius": 10}, "encoding": {"x": {"datum": -1206}, "x2": {"datum": 10699}, "y": {"datum": 15.77}, "y2": {"datum": -42.9}}}
            ]},
            {"width": 85, "height": 104, "layer": [
              {"data": {"name": "trials"}, "transform": [{"filter": "datum.p == 2"}], "mark": {"type": "line", "color": "#c4c4c4", "strokeWidth": 0.8, "opacity": 0.7},
               "encoding": {"x": {"field": "t", "type": "quantitative", "scale": {"domain": [-55, 2980], "nice": false, "zero": false}, "axis": {"values": [0, 833, 1666, 2499], "labels": false, "title": null, "tickSize": 4, "domainWidth": 1.2}},
                 "y": {"field": "y", "type": "quantitative", "scale": {"domain": [-10, 10], "nice": false}, "axis": {"values": [-10, -7.5, -5, -2.5, 0, 2.5, 5, 7.5, 10], "labelExpr": "datum.value == 10 ? '10.0' : datum.value == -10 ? '−10.0' : ''", "title": null, "tickSize": 3, "labelFontSize": 10, "domainWidth": 1.2}},
                 "detail": {"field": "k", "type": "nominal"}}},
              {"data": {"name": "occl"}, "transform": [{"filter": "datum.p == 2"}], "mark": {"type": "rule", "color": "#444", "strokeWidth": 1, "strokeDash": [1, 1.5]}, "encoding": {"x": {"field": "t", "type": "quantitative"}}},
              {"data": {"name": "ball"}, "transform": [{"filter": "datum.p == 2"}], "mark": {"type": "line", "color": "#1f8a3e", "strokeWidth": 1.5}, "encoding": {"x": {"field": "t", "type": "quantitative"}, "y": {"field": "y", "type": "quantitative"}, "strokeDash": {"field": "s", "type": "nominal", "scale": {"domain": ["v", "o"], "range": [[1, 0], [5, 3]]}, "legend": null}}},
              {"data": {"name": "mean"}, "transform": [{"filter": "datum.p == 2"}], "mark": {"type": "line", "color": "#111", "strokeWidth": 1.8, "interpolate": "monotone"}, "encoding": {"x": {"field": "t", "type": "quantitative"}, "y": {"field": "y", "type": "quantitative"}}},
              {"data": {"name": "err"}, "transform": [{"filter": "datum.p == 2"}], "mark": {"type": "rule", "color": "#ee2a1b", "strokeWidth": 5, "xOffset": 2}, "encoding": {"x": {"field": "t", "type": "quantitative"}, "y": {"field": "y", "type": "quantitative"}, "y2": {"field": "y2"}}},
              {"data": {"name": "xlab"}, "transform": [{"filter": "datum.p == 2"}], "mark": {"type": "text", "font": "DejaVu Sans", "fontSize": 9, "color": "#222", "baseline": "top", "dy": 7}, "encoding": {"x": {"field": "t", "type": "quantitative"}, "y": {"datum": -10}, "text": {"field": "lab"}}},
              {"mark": {"type": "text", "text": "Paddle", "fontSize": 12, "fontWeight": "bold", "fontStyle": "italic", "color": "#111"}, "encoding": {"x": {"datum": 1125}, "y": {"datum": 14.2}}},
              {"mark": {"type": "text", "text": "Ball", "fontSize": 12, "fontWeight": "bold", "fontStyle": "italic", "color": "#1f8a3e"}, "encoding": {"x": {"datum": 2660}, "y": {"datum": 14.2}}}
            ]},
            {"width": 85, "height": 104, "layer": [
              {"data": {"name": "trials"}, "transform": [{"filter": "datum.p == 3"}], "mark": {"type": "line", "color": "#c4c4c4", "strokeWidth": 0.8, "opacity": 0.7},
               "encoding": {"x": {"field": "t", "type": "quantitative", "scale": {"domain": [-95, 2603], "nice": false, "zero": false}, "axis": {"values": [0, 833, 1666, 2499], "labels": false, "title": null, "tickSize": 4, "domainWidth": 1.2}},
                 "y": {"field": "y", "type": "quantitative", "scale": {"domain": [-10, 10], "nice": false}, "axis": {"values": [-10, -7.5, -5, -2.5, 0, 2.5, 5, 7.5, 10], "labelExpr": "datum.value == 10 ? '10.0' : datum.value == -10 ? '−10.0' : ''", "title": null, "tickSize": 3, "labelFontSize": 10, "domainWidth": 1.2}},
                 "detail": {"field": "k", "type": "nominal"}}},
              {"data": {"name": "occl"}, "transform": [{"filter": "datum.p == 3"}], "mark": {"type": "rule", "color": "#444", "strokeWidth": 1, "strokeDash": [1, 1.5]}, "encoding": {"x": {"field": "t", "type": "quantitative"}}},
              {"data": {"name": "ball"}, "transform": [{"filter": "datum.p == 3"}], "mark": {"type": "line", "color": "#1f8a3e", "strokeWidth": 1.5}, "encoding": {"x": {"field": "t", "type": "quantitative"}, "y": {"field": "y", "type": "quantitative"}, "strokeDash": {"field": "s", "type": "nominal", "scale": {"domain": ["v", "o"], "range": [[1, 0], [5, 3]]}, "legend": null}}},
              {"data": {"name": "mean"}, "transform": [{"filter": "datum.p == 3"}], "mark": {"type": "line", "color": "#111", "strokeWidth": 1.8, "interpolate": "monotone"}, "encoding": {"x": {"field": "t", "type": "quantitative"}, "y": {"field": "y", "type": "quantitative"}}},
              {"data": {"name": "err"}, "transform": [{"filter": "datum.p == 3"}], "mark": {"type": "rule", "color": "#ee2a1b", "strokeWidth": 5, "xOffset": 2}, "encoding": {"x": {"field": "t", "type": "quantitative"}, "y": {"field": "y", "type": "quantitative"}, "y2": {"field": "y2"}}},
              {"data": {"name": "xlab"}, "transform": [{"filter": "datum.p == 3"}], "mark": {"type": "text", "font": "DejaVu Sans", "fontSize": 9, "color": "#222", "baseline": "top", "dy": 7}, "encoding": {"x": {"field": "t", "type": "quantitative"}, "y": {"datum": -10}, "text": {"field": "lab"}}},
              {"mark": {"type": "text", "text": "Endpoint error", "fontSize": 12, "fontWeight": "bold", "fontStyle": "italic", "color": "#ee2a1b"}, "encoding": {"x": {"datum": 635}, "y": {"datum": 14.2}}},
              {"data": {"name": "curl"}, "mark": {"type": "line", "color": "#ee4433", "strokeWidth": 1, "interpolate": "basis"}, "encoding": {"x": {"field": "t", "type": "quantitative"}, "y": {"field": "y", "type": "quantitative"}, "order": {"field": "n", "type": "quantitative"}}},
              {"mark": {"type": "point", "shape": "triangle-down", "filled": true, "size": 18, "color": "#ee4433", "opacity": 1}, "encoding": {"x": {"datum": 2680}, "y": {"datum": 5.9}}}
            ]},
            {"width": 85, "height": 104, "layer": [
              {"data": {"name": "trials"}, "transform": [{"filter": "datum.p == 4"}], "mark": {"type": "line", "color": "#c4c4c4", "strokeWidth": 0.8, "opacity": 0.7},
               "encoding": {"x": {"field": "t", "type": "quantitative", "scale": {"domain": [-106, 2908], "nice": false, "zero": false}, "axis": {"values": [0, 833, 1666, 2499], "labels": false, "tickSize": 4, "domainWidth": 1.2, "title": "Time (ms)", "titleFontSize": 13, "titleFontWeight": "normal", "titlePadding": 17}},
                 "y": {"field": "y", "type": "quantitative", "scale": {"domain": [-10, 10], "nice": false}, "axis": {"values": [-10, -7.5, -5, -2.5, 0, 2.5, 5, 7.5, 10], "labelExpr": "datum.value == 10 ? '10.0' : datum.value == -10 ? '−10.0' : ''", "tickSize": 3, "labelFontSize": 10, "domainWidth": 1.2, "title": "Paddle y-position (°)", "titleFontSize": 11, "titleFontWeight": "normal", "titlePadding": -24}},
                 "detail": {"field": "k", "type": "nominal"}}},
              {"data": {"name": "occl"}, "transform": [{"filter": "datum.p == 4"}], "mark": {"type": "rule", "color": "#444", "strokeWidth": 1, "strokeDash": [1, 1.5]}, "encoding": {"x": {"field": "t", "type": "quantitative"}}},
              {"data": {"name": "ball"}, "transform": [{"filter": "datum.p == 4"}], "mark": {"type": "line", "color": "#1f8a3e", "strokeWidth": 1.5}, "encoding": {"x": {"field": "t", "type": "quantitative"}, "y": {"field": "y", "type": "quantitative"}, "strokeDash": {"field": "s", "type": "nominal", "scale": {"domain": ["v", "o"], "range": [[1, 0], [5, 3]]}, "legend": null}}},
              {"data": {"name": "mean"}, "transform": [{"filter": "datum.p == 4"}], "mark": {"type": "line", "color": "#111", "strokeWidth": 1.8, "interpolate": "monotone"}, "encoding": {"x": {"field": "t", "type": "quantitative"}, "y": {"field": "y", "type": "quantitative"}}},
              {"data": {"name": "err"}, "transform": [{"filter": "datum.p == 4"}], "mark": {"type": "rule", "color": "#ee2a1b", "strokeWidth": 5, "xOffset": 2}, "encoding": {"x": {"field": "t", "type": "quantitative"}, "y": {"field": "y", "type": "quantitative"}, "y2": {"field": "y2"}}},
              {"data": {"name": "xlab"}, "transform": [{"filter": "datum.p == 4"}], "mark": {"type": "text", "font": "DejaVu Sans", "fontSize": 9, "color": "#222", "baseline": "top", "dy": 7}, "encoding": {"x": {"field": "t", "type": "quantitative"}, "y": {"datum": -10}, "text": {"field": "lab"}}}
            ]},
            {"width": 85, "height": 104, "layer": [
              {"data": {"name": "trials"}, "transform": [{"filter": "datum.p == 5"}], "mark": {"type": "line", "color": "#c4c4c4", "strokeWidth": 0.8, "opacity": 0.7},
               "encoding": {"x": {"field": "t", "type": "quantitative", "scale": {"domain": [-42, 3500], "nice": false, "zero": false}, "axis": {"values": [0, 833, 1666, 2499, 3333], "labels": false, "title": null, "tickSize": 4, "domainWidth": 1.2}},
                 "y": {"field": "y", "type": "quantitative", "scale": {"domain": [-10, 10], "nice": false}, "axis": {"values": [-10, -7.5, -5, -2.5, 0, 2.5, 5, 7.5, 10], "labelExpr": "datum.value == 10 ? '10.0' : datum.value == -10 ? '−10.0' : ''", "title": null, "tickSize": 3, "labelFontSize": 10, "domainWidth": 1.2}},
                 "detail": {"field": "k", "type": "nominal"}}},
              {"data": {"name": "occl"}, "transform": [{"filter": "datum.p == 5"}], "mark": {"type": "rule", "color": "#444", "strokeWidth": 1, "strokeDash": [1, 1.5]}, "encoding": {"x": {"field": "t", "type": "quantitative"}}},
              {"data": {"name": "ball"}, "transform": [{"filter": "datum.p == 5"}], "mark": {"type": "line", "color": "#1f8a3e", "strokeWidth": 1.5}, "encoding": {"x": {"field": "t", "type": "quantitative"}, "y": {"field": "y", "type": "quantitative"}, "strokeDash": {"field": "s", "type": "nominal", "scale": {"domain": ["v", "o"], "range": [[1, 0], [5, 3]]}, "legend": null}}},
              {"data": {"name": "mean"}, "transform": [{"filter": "datum.p == 5"}], "mark": {"type": "line", "color": "#111", "strokeWidth": 1.8, "interpolate": "monotone"}, "encoding": {"x": {"field": "t", "type": "quantitative"}, "y": {"field": "y", "type": "quantitative"}}},
              {"data": {"name": "err"}, "transform": [{"filter": "datum.p == 5"}], "mark": {"type": "rule", "color": "#ee2a1b", "strokeWidth": 5, "xOffset": 2}, "encoding": {"x": {"field": "t", "type": "quantitative"}, "y": {"field": "y", "type": "quantitative"}, "y2": {"field": "y2"}}},
              {"data": {"name": "xlab"}, "transform": [{"filter": "datum.p == 5"}], "mark": {"type": "text", "font": "DejaVu Sans", "fontSize": 9, "color": "#222", "baseline": "top", "dy": 7}, "encoding": {"x": {"field": "t", "type": "quantitative"}, "y": {"datum": -10}, "text": {"field": "lab"}}}
            ]},
            {"width": 85, "height": 104, "layer": [
              {"data": {"name": "trials"}, "transform": [{"filter": "datum.p == 6"}], "mark": {"type": "line", "color": "#c4c4c4", "strokeWidth": 0.8, "opacity": 0.7},
               "encoding": {"x": {"field": "t", "type": "quantitative", "scale": {"domain": [-30, 2546], "nice": false, "zero": false}, "axis": {"values": [0, 833, 1666, 2499], "labels": false, "title": null, "tickSize": 4, "domainWidth": 1.2}},
                 "y": {"field": "y", "type": "quantitative", "scale": {"domain": [-10, 10], "nice": false}, "axis": {"values": [-10, -7.5, -5, -2.5, 0, 2.5, 5, 7.5, 10], "labelExpr": "datum.value == 10 ? '10.0' : datum.value == -10 ? '−10.0' : ''", "title": null, "tickSize": 3, "labelFontSize": 10, "domainWidth": 1.2}},
                 "detail": {"field": "k", "type": "nominal"}}},
              {"data": {"name": "occl"}, "transform": [{"filter": "datum.p == 6"}], "mark": {"type": "rule", "color": "#444", "strokeWidth": 1, "strokeDash": [1, 1.5]}, "encoding": {"x": {"field": "t", "type": "quantitative"}}},
              {"data": {"name": "ball"}, "transform": [{"filter": "datum.p == 6"}], "mark": {"type": "line", "color": "#1f8a3e", "strokeWidth": 1.5}, "encoding": {"x": {"field": "t", "type": "quantitative"}, "y": {"field": "y", "type": "quantitative"}, "strokeDash": {"field": "s", "type": "nominal", "scale": {"domain": ["v", "o"], "range": [[1, 0], [5, 3]]}, "legend": null}}},
              {"data": {"name": "mean"}, "transform": [{"filter": "datum.p == 6"}], "mark": {"type": "line", "color": "#111", "strokeWidth": 1.8, "interpolate": "monotone"}, "encoding": {"x": {"field": "t", "type": "quantitative"}, "y": {"field": "y", "type": "quantitative"}}},
              {"data": {"name": "err"}, "transform": [{"filter": "datum.p == 6"}], "mark": {"type": "rule", "color": "#ee2a1b", "strokeWidth": 5, "xOffset": 2}, "encoding": {"x": {"field": "t", "type": "quantitative"}, "y": {"field": "y", "type": "quantitative"}, "y2": {"field": "y2"}}},
              {"data": {"name": "xlab"}, "transform": [{"filter": "datum.p == 6"}], "mark": {"type": "text", "font": "DejaVu Sans", "fontSize": 9, "color": "#222", "baseline": "top", "dy": 7}, "encoding": {"x": {"field": "t", "type": "quantitative"}, "y": {"datum": -10}, "text": {"field": "lab"}}}
            ]}
          ],
          "columns": 3,
          "spacing": {"row": 24, "column": 33},
          "bounds": "flush"
        }
      ], "spacing": 0}
    ], "spacing": 0},
    {"vconcat": [
      {"width": 1, "height": 10, "mark": {"type": "rule", "opacity": 0}, "encoding": {"x": {"datum": 0, "type": "quantitative", "scale": {"domain": [0, 1]}, "axis": null}, "y": {"datum": 0, "type": "quantitative", "scale": {"domain": [0, 1]}, "axis": null}, "y2": {"datum": 1}}},
      {
        "width": 25, "height": 250,
        "view": {"stroke": "#555", "strokeWidth": 1},
        "layer": [
          {"data": {"name": "cond"}, "mark": {"type": "bar", "orient": "horizontal", "height": 1.4},
           "encoding": {
             "y": {"field": "i", "type": "quantitative", "scale": {"domain": [-0.5, 199.5], "reverse": true, "nice": false, "zero": false}, "axis": null},
             "x": {"datum": 0, "type": "quantitative", "scale": {"domain": [0, 1], "nice": false, "zero": false}, "axis": null},
             "x2": {"datum": 1},
             "color": {"field": "h", "type": "quantitative", "scale": {"scheme": "redyellowblue", "domain": [-2, 2], "clamp": true},
               "legend": {"orient": "none", "legendX": 40, "legendY": 76, "direction": "vertical", "gradientLength": 122, "gradientThickness": 7, "titleOrient": "left", "title": "Endpoint error", "titleFontSize": 16, "titleFontStyle": "italic", "titleFontWeight": "normal", "titleColor": "#777", "titlePadding": 4, "titleAnchor": "middle", "values": [1, 0, -1], "labelExpr": "datum.value < 0 ? '−' + abs(datum.value) : datum.label"}}}},
          {"mark": {"type": "rule", "color": "#111", "strokeWidth": 2}, "encoding": {"x": {"datum": -2.24}, "x2": {"datum": -1.4}, "y": {"datum": 108.3}}},
          {"mark": {"type": "point", "shape": "triangle-right", "filled": true, "size": 120, "color": "#111", "opacity": 1}, "encoding": {"x": {"datum": -1.28}, "y": {"datum": 108.3}}},
          {"mark": {"type": "text", "text": "B", "fontSize": 23, "fontWeight": "bold", "font": "Liberation Sans"}, "encoding": {"x": {"datum": -1.28}, "y": {"datum": 7.5}}},
          {"mark": {"type": "text", "text": "Error-vector", "fontSize": 12, "fontStyle": "italic", "color": "#666"}, "encoding": {"x": {"datum": 0.5}, "y": {"datum": 213.4}}},
          {"mark": {"type": "text", "text": "across 200 conditions", "fontSize": 12, "fontStyle": "italic", "color": "#666"}, "encoding": {"x": {"datum": 0.5}, "y": {"datum": 225.0}}}
        ]
      }
    ], "spacing": 0}
  ], "spacing": 7},
  {"hconcat": [
    {"hconcat": [
      {"hconcat": [
        {"width": 1, "height": 1, "mark": {"type": "rule", "opacity": 0}, "encoding": {"x": {"datum": 0, "type": "quantitative", "scale": {"domain": [0, 1]}, "axis": null}, "y": {"datum": 0, "type": "quantitative", "scale": {"domain": [0, 1]}, "axis": null}, "y2": {"datum": 1}}},
        {"vconcat": [
          {"width": 1, "height": 2, "mark": {"type": "rule", "opacity": 0}, "encoding": {"x": {"datum": 0, "type": "quantitative", "scale": {"domain": [0, 1]}, "axis": null}, "y": {"datum": 0, "type": "quantitative", "scale": {"domain": [0, 1]}, "axis": null}, "y2": {"datum": 1}}},
          {
            "width": 202, "height": 259,
            "layer": [
              {"data": {"name": "sess"}, "mark": {"type": "line", "strokeWidth": 2},
               "encoding": {
                 "x": {"field": "s", "type": "quantitative", "scale": {"domain": [0.5, 14], "nice": false, "zero": false},
                   "axis": {"values": [1, 2, 3, 4, 5, 8], "labelExpr": "datum.value <= 5 ? datum.label : ''", "offset": 10, "domainWidth": 2.5, "domainColor": "#111", "tickWidth": 2, "tickSize": 6, "tickColor": "#111", "labelFontSize": 12, "labelPadding": 3, "title": null}},
                 "y": {"field": "v", "type": "quantitative", "scale": {"domain": [0, 7], "nice": false},
                   "axis": {"values": [0, 1, 2, 3, 4, 5, 6, 7], "offset": 10, "domainWidth": 2.5, "domainColor": "#111", "tickWidth": 2, "tickSize": 6, "tickColor": "#111", "labelFontSize": 12, "title": "Task Performance", "titleFontSize": 18, "titleFontWeight": "bold", "titlePadding": 19}},
                 "color": {"field": "mk", "type": "nominal", "scale": {"domain": ["P", "C"], "range": ["#3b3fb3", "#3dbe3d"]}, "legend": null}}},
              {"data": {"name": "sess"}, "mark": {"type": "circle", "size": 60, "opacity": 1},
               "encoding": {"x": {"field": "s", "type": "quantitative"}, "y": {"field": "v", "type": "quantitative"}, "color": {"field": "mk", "type": "nominal", "legend": null}}},
              {"data": {"name": "test"}, "transform": [{"filter": "datum.mk == 'C'"}], "mark": {"type": "rule", "color": "#3dbe3d", "strokeWidth": 1.5, "xOffset": -4},
               "encoding": {"x": {"field": "s", "type": "quantitative"}, "y": {"field": "lo", "type": "quantitative"}, "y2": {"field": "hi"}}},
              {"data": {"name": "test"}, "transform": [{"filter": "datum.mk == 'C'"}], "mark": {"type": "point", "size": 55, "filled": true, "stroke": "#3dbe3d", "strokeWidth": 1.5, "opacity": 1, "xOffset": -4},
               "encoding": {"x": {"field": "s", "type": "quantitative"}, "y": {"field": "v", "type": "quantitative"}, "fill": {"condition": {"test": "datum.f == 'open'", "value": "white"}, "value": "#3dbe3d"}}},
              {"data": {"name": "test"}, "transform": [{"filter": "datum.mk == 'P'"}], "mark": {"type": "rule", "color": "#3b3fb3", "strokeWidth": 1.5, "xOffset": 4},
               "encoding": {"x": {"field": "s", "type": "quantitative"}, "y": {"field": "lo", "type": "quantitative"}, "y2": {"field": "hi"}}},
              {"data": {"name": "test"}, "transform": [{"filter": "datum.mk == 'P'"}], "mark": {"type": "point", "size": 55, "filled": true, "stroke": "#3b3fb3", "strokeWidth": 1.5, "opacity": 1, "xOffset": 4},
               "encoding": {"x": {"field": "s", "type": "quantitative"}, "y": {"field": "v", "type": "quantitative"}, "fill": {"condition": {"test": "datum.f == 'open'", "value": "white"}, "value": "#3b3fb3"}}},
              {"mark": {"type": "rule", "color": "#9a9a9a", "strokeWidth": 3, "strokeDash": [7, 5]}, "encoding": {"x": {"datum": 0.63}, "x2": {"datum": 9.8}, "y": {"datum": 6.27}}},
              {"mark": {"type": "point", "shape": "triangle-left", "filled": true, "size": 40, "color": "#9a9a9a", "opacity": 1}, "encoding": {"x": {"datum": 10.05}, "y": {"datum": 6.27}}},
              {"mark": {"type": "text", "text": "Shuffled", "fontSize": 13, "fontWeight": "bold", "color": "#9a9a9a", "align": "left"}, "encoding": {"x": {"datum": 10.4}, "y": {"datum": 6.28}}},
              {"mark": {"type": "text", "text": "null", "fontSize": 13, "fontWeight": "bold", "color": "#9a9a9a"}, "encoding": {"x": {"datum": 12.1}, "y": {"datum": 5.82}}},
              {"mark": {"type": "text", "text": "C", "fontSize": 24, "fontWeight": "bold", "font": "Liberation Sans", "align": "left"}, "encoding": {"x": {"datum": -4.83}, "y": {"datum": 6.89}}},
              {"mark": {"type": "text", "text": "Monkey behavior", "fontSize": 16, "color": "#9632c8"}, "encoding": {"x": {"datum": 5.23}, "y": {"datum": 7.08}}},
              {"mark": {"type": "text", "text": "Introduce", "fontSize": 14, "fontStyle": "italic", "color": "#a11d1d"}, "encoding": {"x": {"datum": 2.43}, "y": {"datum": 5.03}}},
              {"mark": {"type": "text", "text": "occlusion", "fontSize": 14, "fontStyle": "italic", "color": "#a11d1d"}, "encoding": {"x": {"datum": 2.43}, "y": {"datum": 4.55}}},
              {"mark": {"type": "rule", "color": "#a11d1d", "strokeWidth": 1.5}, "encoding": {"x": {"datum": 0.97}, "y": {"datum": 4.14}, "y2": {"datum": 2.75}}},
              {"mark": {"type": "point", "shape": "triangle-down", "filled": true, "size": 90, "color": "#a11d1d", "opacity": 1}, "encoding": {"x": {"datum": 0.97}, "y": {"datum": 2.6}}},
              {"mark": {"type": "text", "text": "Introduce", "fontSize": 14, "fontStyle": "italic", "color": "#c06a6a"}, "encoding": {"x": {"datum": 8.17}, "y": {"datum": 3.94}}},
              {"mark": {"type": "text", "text": "new conditions", "fontSize": 14, "fontStyle": "italic", "color": "#c06a6a"}, "encoding": {"x": {"datum": 8.17}, "y": {"datum": 3.46}}},
              {"mark": {"type": "rule", "color": "#c98080", "strokeWidth": 1.5}, "encoding": {"x": {"datum": 7.83}, "y": {"datum": 3.16}, "y2": {"datum": 2.75}}},
              {"mark": {"type": "point", "shape": "triangle-down", "filled": true, "size": 90, "color": "#c98080", "opacity": 1}, "encoding": {"x": {"datum": 7.83}, "y": {"datum": 2.6}}},
              {"mark": {"type": "point", "shape": "triangle-left", "filled": true, "size": 35, "color": "#b548c8", "opacity": 1}, "encoding": {"x": {"datum": 9.77}, "y": {"datum": 1.84}}},
              {"mark": {"type": "text", "text": "Monkeys", "fontSize": 14, "fontWeight": "bold", "color": "#7a22a8", "align": "left"}, "encoding": {"x": {"datum": 10.43}, "y": {"datum": 1.84}}},
              {"mark": {"type": "point", "shape": "triangle-left", "filled": true, "size": 35, "color": "#e8321f", "opacity": 1}, "encoding": {"x": {"datum": 9.77}, "y": {"datum": 1.27}}},
              {"mark": {"type": "text", "text": "Humans", "fontSize": 14, "fontWeight": "bold", "color": "#e8321f", "align": "left"}, "encoding": {"x": {"datum": 10.43}, "y": {"datum": 1.27}}},
              {"mark": {"type": "text", "text": "Monkey P", "fontSize": 13, "fontStyle": "italic", "color": "#3b3fb3", "align": "left"}, "encoding": {"x": {"datum": 0.77}, "y": {"datum": 0.7}}},
              {"mark": {"type": "text", "text": "Monkey C", "fontSize": 13, "fontStyle": "italic", "color": "#3dbe3d", "align": "left"}, "encoding": {"x": {"datum": 0.77}, "y": {"datum": 0.22}}},
              {"mark": {"type": "text", "text": "Behavioral", "fontSize": 15, "fontWeight": "bold", "fontStyle": "italic", "color": "#111"}, "encoding": {"x": {"datum": 3.1}, "y": {"datum": -1.12}}},
              {"mark": {"type": "text", "text": "sessions", "fontSize": 15, "fontWeight": "bold", "fontStyle": "italic", "color": "#111"}, "encoding": {"x": {"datum": 3.1}, "y": {"datum": -1.57}}},
              {"mark": {"type": "text", "text": "Test", "fontSize": 15, "fontWeight": "bold", "fontStyle": "italic", "color": "#111"}, "encoding": {"x": {"datum": 7.97}, "y": {"datum": -1.17}}},
              {"mark": {"type": "text", "text": "(1st trial)", "fontSize": 11, "color": "#333"}, "encoding": {"x": {"datum": 7.97}, "y": {"datum": -1.66}}},
              {"mark": {"type": "text", "text": "Mean absolute error (°)", "fontSize": 13, "fontStyle": "italic", "color": "#333", "angle": 270}, "encoding": {"x": {"datum": -1.77}, "y": {"datum": 3.3}}}
            ]
          }
        ], "spacing": 0}
      ], "spacing": 0},
      {"vconcat": [
        {"width": 1, "height": 35, "mark": {"type": "rule", "opacity": 0}, "encoding": {"x": {"datum": 0, "type": "quantitative", "scale": {"domain": [0, 1]}, "axis": null}, "y": {"datum": 0, "type": "quantitative", "scale": {"domain": [0, 1]}, "axis": null}, "y2": {"datum": 1}}},
        {
          "width": 25, "height": 251,
          "view": {"stroke": "#555", "strokeWidth": 1},
          "layer": [
            {"data": {"name": "cond"}, "mark": {"type": "bar", "orient": "horizontal", "height": 1.4},
             "encoding": {
               "y": {"field": "i", "type": "quantitative", "scale": {"domain": [-0.5, 199.5], "reverse": true, "nice": false, "zero": false}, "axis": null},
               "x": {"datum": 0, "type": "quantitative", "scale": {"domain": [0, 1], "nice": false, "zero": false}, "axis": null},
               "x2": {"datum": 1},
               "color": {"field": "m", "type": "quantitative", "scale": {"scheme": "redyellowblue", "domain": [-3, 3], "clamp": true},
                 "legend": {"orient": "none", "legendX": 37, "legendY": 99, "direction": "vertical", "gradientLength": 124, "gradientThickness": 7, "titleOrient": "left", "title": "Endpoint error", "titleFontSize": 16, "titleFontStyle": "italic", "titleFontWeight": "normal", "titleColor": "#777", "titlePadding": 4, "titleAnchor": "middle", "values": [2, 0, -2], "labelExpr": "datum.value < 0 ? '−' + abs(datum.value) : datum.label"}}}},
            {"mark": {"type": "rule", "color": "#111", "strokeWidth": 2}, "encoding": {"x": {"datum": -1.68}, "x2": {"datum": -0.9}, "y": {"datum": 86.4}}},
            {"mark": {"type": "point", "shape": "triangle-right", "filled": true, "size": 120, "color": "#111", "opacity": 1}, "encoding": {"x": {"datum": -0.72}, "y": {"datum": 86.4}}},
            {"mark": {"type": "text", "text": "Error-vector", "fontSize": 12, "fontStyle": "italic", "color": "#666"}, "encoding": {"x": {"datum": 0.5}, "y": {"datum": 209.6}}},
            {"mark": {"type": "text", "text": "across 200 conditions", "fontSize": 12, "fontStyle": "italic", "color": "#666"}, "encoding": {"x": {"datum": 0.5}, "y": {"datum": 221.2}}}
          ]
        }
      ], "spacing": 0}
    ], "spacing": 21},
    {"vconcat": [
      {"width": 1, "height": 32, "mark": {"type": "rule", "opacity": 0}, "encoding": {"x": {"datum": 0, "type": "quantitative", "scale": {"domain": [0, 1]}, "axis": null}, "y": {"datum": 0, "type": "quantitative", "scale": {"domain": [0, 1]}, "axis": null}, "y2": {"datum": 1}}},
      {
        "width": 209, "height": 203,
        "layer": [
          {"data": {"name": "cond"}, "mark": {"type": "circle", "size": 36, "color": "#000", "opacity": 1, "stroke": "#fff", "strokeWidth": 0.7},
           "encoding": {
             "x": {"field": "h", "type": "quantitative", "scale": {"domain": [-4.5, 6.9], "nice": false, "zero": false},
               "axis": {"values": [-4, -2, 0, 2, 4, 6], "labelExpr": "datum.value == -4 ? '−4' : datum.value == 6 ? '6' : ''", "offset": 10, "domainWidth": 2, "domainColor": "#111", "tickSize": 5, "tickWidth": 1.5, "tickColor": "#111", "title": "Human behavior", "titleFontSize": 17, "titleFontWeight": "bold", "titlePadding": -6}},
             "y": {"field": "m", "type": "quantitative", "scale": {"domain": [-7.5, 8.1], "nice": false, "zero": false},
               "axis": {"values": [-6, -4, -2, 0, 2, 4, 6, 8], "labels": false, "offset": 8, "domainWidth": 2, "domainColor": "#111", "tickSize": 5, "tickWidth": 1.5, "tickColor": "#111", "title": "Monkey behavior", "titleFontSize": 17, "titleFontWeight": "bold", "titlePadding": 18}}}},
          {"mark": {"type": "text", "text": "8", "font": "DejaVu Sans", "fontSize": 11, "color": "#222", "align": "right", "dx": -15}, "encoding": {"x": {"datum": -4.5}, "y": {"datum": 8}}},
          {"mark": {"type": "text", "text": "−6", "font": "DejaVu Sans", "fontSize": 11, "color": "#222", "align": "right", "dx": -15}, "encoding": {"x": {"datum": -4.5}, "y": {"datum": -6}}},
          {"mark": {"type": "text", "text": "D", "fontSize": 23, "fontWeight": "bold", "font": "Liberation Sans", "align": "left"}, "encoding": {"x": {"datum": -6.85}, "y": {"datum": 8.0}}},
          {"mark": {"type": "text", "text": "r = 0.89", "fontSize": 12, "fontStyle": "italic", "color": "#111", "align": "left"}, "encoding": {"x": {"datum": 1.52}, "y": {"datum": -5.23}}},
          {"mark": {"type": "text", "text": "n = 200 conditions", "fontSize": 12, "fontStyle": "italic", "color": "#111", "align": "left"}, "encoding": {"x": {"datum": 1.52}, "y": {"datum": -6.46}}},
          {"mark": {"type": "text", "text": "Endpoint error (°)", "fontSize": 12, "fontStyle": "italic", "color": "#333", "angle": 270}, "encoding": {"x": {"datum": -5.58}, "y": {"datum": -0.08}}},
          {"mark": {"type": "text", "text": "Endpoint error (°)", "fontSize": 12, "fontStyle": "italic", "color": "#333"}, "encoding": {"x": {"datum": 0.54}, "y": {"datum": -11.3}}}
        ]
      }
    ], "spacing": 0}
  ], "spacing": 49}
],
"spacing": 0
}
